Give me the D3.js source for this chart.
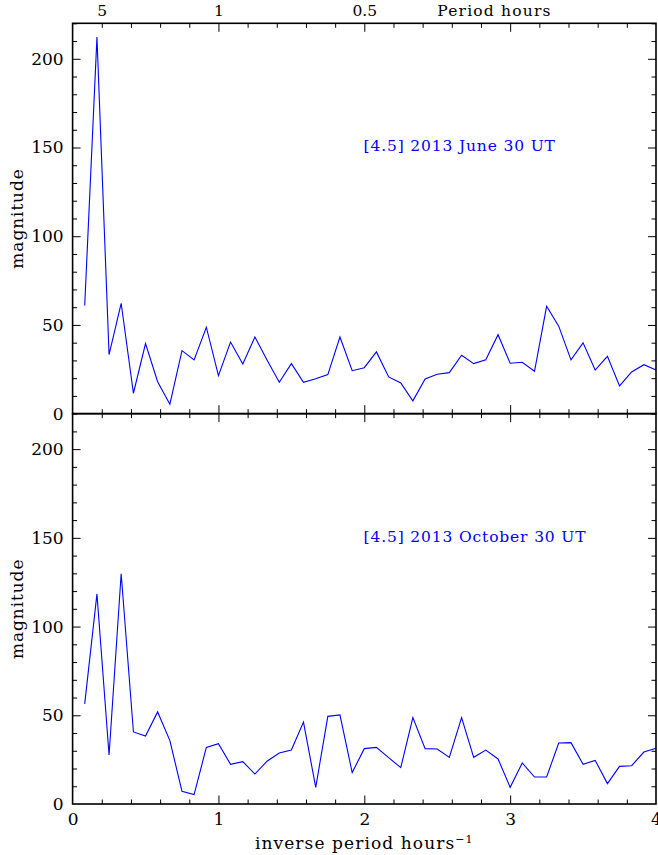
<!DOCTYPE html>
<html>
<head>
<meta charset="utf-8">
<script src="https://cdn.jsdelivr.net/npm/d3@7"></script>
<style>
  html, body { margin: 0; padding: 0; background: #fff; }
  svg { display: block; }
  text { font-family: "DejaVu Serif", "Liberation Serif", serif; fill: #000; }
</style>
</head>
<body>
<svg id="chart" width="658" height="855"></svg>
<script>
// Frequency grid (hours^-1)
const frequency = [0.083, 0.167, 0.25, 0.333, 0.417, 0.5, 0.583, 0.667, 0.75, 0.833, 0.917, 1.0,
  1.083, 1.167, 1.25, 1.333, 1.417, 1.5, 1.583, 1.667, 1.75, 1.833, 1.917, 2.0,
  2.083, 2.167, 2.25, 2.333, 2.417, 2.5, 2.583, 2.667, 2.75, 2.833, 2.917, 3.0,
  3.083, 3.167, 3.25, 3.333, 3.417, 3.5, 3.583, 3.667, 3.75, 3.833, 3.917, 4.0];

// Periodogram magnitudes, [4.5] 2013 June 30 UT
const magJune = [60.9, 212.2, 33.3, 62.2, 11.5, 39.5, 18.0, 5.3, 35.5, 30.3, 48.7, 21.4,
  40.4, 28.0, 43.2, 30.3, 17.7, 28.2, 17.7, 19.7, 22.0, 43.2, 24.2, 25.9,
  34.8, 20.7, 17.3, 7.2, 19.6, 22.2, 23.1, 32.9, 28.2, 30.4, 44.5, 28.4,
  29.0, 23.9, 60.5, 49.3, 30.3, 39.9, 24.6, 32.3, 15.6, 23.5, 27.6, 24.6];

// Periodogram magnitudes, [4.5] 2013 October 30 UT
const magOctober = [56.4, 118.4, 27.6, 129.8, 40.6, 38.3, 51.9, 35.7, 7.1, 5.3, 31.9, 34.0,
  22.4, 23.9, 16.9, 24.1, 28.7, 30.4, 46.2, 9.4, 49.4, 50.2, 17.7, 31.2,
  31.9, 26.1, 20.5, 48.7, 31.2, 31.0, 26.3, 48.7, 26.3, 30.4, 25.4, 9.4,
  23.1, 15.2, 15.2, 34.4, 34.6, 22.4, 24.6, 11.5, 21.2, 21.6, 29.3, 31.4];

const panelLabels = ["[4.5] 2013 June 30 UT", "[4.5] 2013 October 30 UT"];
const xMajorTicks = [0, 1, 2, 3, 4];
const yMajorTicks = [0, 50, 100, 150, 200];
const periodTicks = [0.2, 1, 2];          // frequencies where period labels sit
const periodLabels = ["5", "1", "0.5"];   // period in hours
const xDomain = [0, 4];
const yDomain = [0, 220];

const svg = d3.select("#chart");
const marginLeft = 72.6, plotRight = 656, marginTop = 23.3, panelH = 390.35;
const W = plotRight - marginLeft;

const x = d3.scaleLinear().domain(xDomain).range([0, W]);
const xMinor = d3.range(0, 4.0001, 0.2).map(v => +v.toFixed(1));
const yMinor = d3.range(0, 220.0001, 10);

const series = [magJune, magOctober];

series.forEach((vals, i) => {
  const g = svg.append("g").attr("transform", `translate(${marginLeft},${marginTop + i * panelH})`);
  const y = d3.scaleLinear().domain(yDomain).range([panelH, 0]);

  // data trace
  const line = d3.line().x((d, j) => x(frequency[j])).y(d => y(d));
  g.append("path")
    .datum(vals)
    .attr("d", line)
    .attr("fill", "none")
    .attr("stroke", "#0000ff")
    .attr("stroke-width", 1.1)
    .attr("stroke-linejoin", "miter");

  // minor / major ticks on all four sides, pointing inward
  const mk = (axisFn, scale, tv, size, transform, fmt) => {
    const a = axisFn(scale).tickValues(tv).tickSize(size).tickPadding(9)
      .tickFormat(fmt || (() => ""));
    const ag = g.append("g").call(a);
    if (transform) ag.attr("transform", transform);
    ag.select(".domain").remove();
    ag.selectAll(".tick line").attr("stroke", "#000").attr("stroke-width", 1);
    ag.selectAll("text").style("font-family", '"DejaVu Serif", serif').style("font-size", "17px").attr("fill", "#000");
    return ag;
  };

  const xMin = xMinor.filter(v => !xMajorTicks.includes(v));
  const yMin = yMinor.filter(v => !yMajorTicks.includes(v));

  // bottom
  mk(d3.axisBottom, x, xMin, -4.5, `translate(0,${panelH})`);
  mk(d3.axisBottom, x, xMajorTicks.slice(1, -1), -8.5, `translate(0,${panelH})`);
  // top
  mk(d3.axisTop, x, xMin, -4.5);
  mk(d3.axisTop, x, xMajorTicks.slice(1, -1), -8.5);
  // left
  mk(d3.axisLeft, y, yMin, -4.5);
  mk(d3.axisLeft, y, yMajorTicks.slice(1), -8, null, d3.format("d"));
  // right
  mk(d3.axisRight, y, yMin, -4.5, `translate(${W},0)`);
  mk(d3.axisRight, y, yMajorTicks.slice(1), -8, `translate(${W},0)`);

  // zero label on the left axis (sits on the frame corner)
  g.append("text")
    .attr("x", -9).attr("y", y(0)).attr("dy", "0.36em")
    .attr("text-anchor", "end").style("font-size", "17px").text("0");

  // frame
  g.append("rect").attr("x", 0).attr("y", 0).attr("width", W).attr("height", panelH)
    .attr("fill", "none").attr("stroke", "#000").attr("stroke-width", 1.6);

  // y title
  g.append("text")
    .attr("transform", `translate(-55,${panelH / 2}) rotate(-90)`)
    .attr("text-anchor", "middle").attr("dy", "0.3em")
    .style("font-size", "17px").style("letter-spacing", "0.9px")
    .text("magnitude");

  // panel annotation
  g.append("text")
    .attr("x", x(1.995)).attr("y", 128)
    .style("font-size", "15.5px").style("letter-spacing", "0.85px").style("fill", "#0000ff")
    .text(panelLabels[i]);

  if (i === 0) {
    // period labels along the top axis
    const pa = d3.axisTop(x).tickValues(periodTicks).tickSize(0).tickPadding(7)
      .tickFormat((d, k) => periodLabels[k]);
    const pg = g.append("g").call(pa);
    pg.select(".domain").remove();
    pg.selectAll("text").style("font-size", "15.5px").attr("fill", "#000");
    g.append("text").attr("x", x(2.5)).attr("y", -7)
      .style("font-size", "15.5px").style("letter-spacing", "1.2px").text("Period hours");
  } else {
    // frequency labels along the bottom axis
    const fa = d3.axisBottom(x).tickValues(xMajorTicks).tickSize(0).tickPadding(9)
      .tickFormat(d3.format("d"));
    const fg = g.append("g").attr("transform", `translate(0,${panelH})`).call(fa);
    fg.select(".domain").remove();
    fg.selectAll("text").style("font-size", "17px").attr("fill", "#000");

    const t = g.append("text")
      .attr("x", x(2)).attr("y", panelH + 45)
      .attr("text-anchor", "middle").style("font-size", "17px").style("letter-spacing", "1.1px");
    t.append("tspan").text("inverse period hours");
    t.append("tspan").attr("dy", -6).style("font-size", "11px").text("−1");
  }
});
</script>
</body>
</html>
